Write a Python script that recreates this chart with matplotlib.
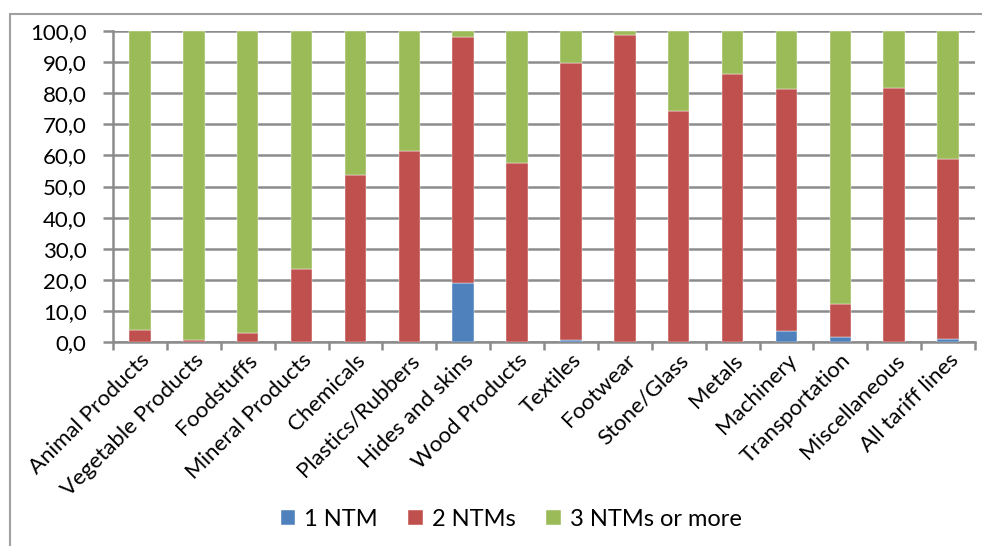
import matplotlib

matplotlib.use("Agg")
import matplotlib.pyplot as plt
import numpy as np
from matplotlib.patches import Rectangle

plt.rcParams["font.family"] = ["Lato", "DejaVu Sans"]

categories = [
    "Animal Products", "Vegetable Products", "Foodstuffs", "Mineral Products",
    "Chemicals", "Plastics/Rubbers", "Hides and skins", "Wood Products",
    "Textiles", "Footwear", "Stone/Glass", "Metals", "Machinery",
    "Transportation", "Miscellaneous", "All tariff lines",
]
one_ntm = [0.0, 0.0, 0.0, 0.0, 0.0, 0.0, 19.0, 0.0, 0.5, 0.0, 0.0, 0.0, 3.5, 1.5, 0.0, 1.0]
two_ntms = [4.0, 0.6, 3.0, 23.5, 53.7, 61.5, 79.0, 57.6, 89.2, 98.6, 74.3, 86.3, 77.7, 10.8, 81.8, 58.0]
three_plus = [100 - a - b for a, b in zip(one_ntm, two_ntms)]

series = [("1 NTM", one_ntm, "#4F81BD"),
          ("2 NTMs", two_ntms, "#C0504D"),
          ("3 NTMs or more", three_plus, "#9BBB59")]

fig = plt.figure(figsize=(9.82, 5.46), dpi=100)
# chart-area border like the spreadsheet export
fig.patches.append(Rectangle((10 / 982, -0.01), 1.0, 1 - 14 / 546 + 0.01,
                             transform=fig.transFigure, fill=False,
                             edgecolor="#A0A0A0", lw=1.5))
ax = fig.add_axes([113 / 982, 1 - 342 / 546, (975 - 113) / 982, (342 - 31) / 546])

x = np.arange(len(categories))
bottom = np.zeros(len(categories))
for name, vals, color in series:
    ax.bar(x, vals, 0.4, bottom=bottom, color=color, label=name,
           edgecolor="white", linewidth=0.3, zorder=3)
    bottom += np.array(vals)

ax.set_xlim(-0.5, len(categories) - 0.5)
ax.set_ylim(0, 100)
ax.set_yticks(np.arange(0, 101, 10))
ax.set_yticklabels([f"{v:.1f}".replace(".", ",") for v in np.arange(0, 101, 10)], fontsize=16)
ax.yaxis.grid(True, color="#8C8C8C", lw=1.8, zorder=0)
ax.set_xticks(x)
ax.set_xticklabels(categories, rotation=45, ha="right", rotation_mode="anchor", fontsize=16)
ax.set_xticks(np.arange(-0.5, len(categories), 1), minor=True)
ax.tick_params(axis="x", which="major", length=0, pad=6)
ax.tick_params(axis="x", which="minor", length=6, width=1.8, color="#8C8C8C")
ax.tick_params(axis="y", length=7, width=1.8, color="#8C8C8C", pad=12)
for side in ("top", "right"):
    ax.spines[side].set_visible(False)
for side in ("left", "bottom"):
    ax.spines[side].set_color("#8C8C8C")
    ax.spines[side].set_linewidth(1.8)

ax.legend(loc="center", bbox_to_anchor=(0.462, -0.57), ncol=3, frameon=False,
          fontsize=17, handlelength=0.6, handleheight=0.6, columnspacing=1.3,
          handletextpad=0.4)

fig.savefig("out.png", dpi=100)
